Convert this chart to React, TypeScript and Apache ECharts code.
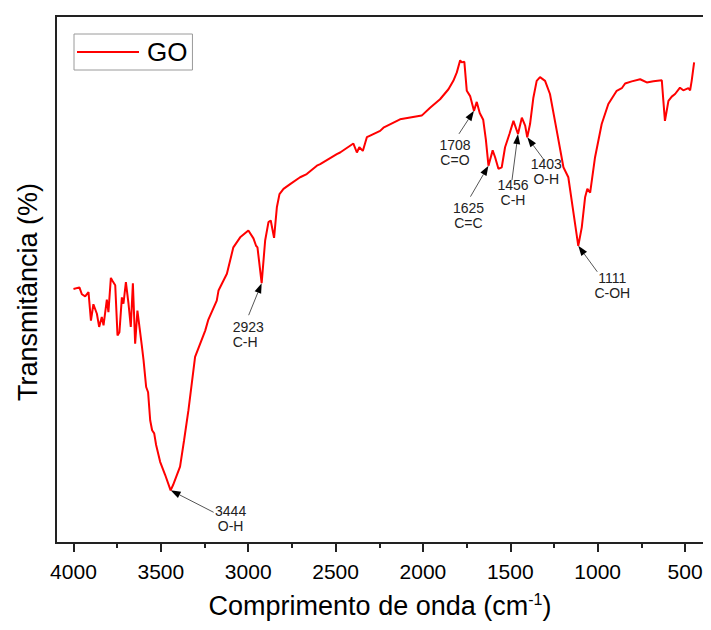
import { useEffect, useRef } from "react";
import * as echarts from "echarts";

// FTIR spectrum of graphene oxide (GO)
const wavenumber = [
  4000, 3966, 3952, 3933, 3914, 3900, 3886, 3866, 3853, 3838, 3828, 3809, 3800, 3786, 3778, 3761,
  3748, 3737, 3723, 3714, 3700, 3685, 3672, 3660, 3647, 3634, 3609, 3599, 3584, 3573, 3561, 3550,
  3538, 3527, 3504, 3475, 3444, 3430, 3390, 3367, 3342, 3304, 3246, 3228, 3180, 3170, 3122, 3085,
  3046, 2999, 2970, 2955, 2947, 2923, 2903, 2884, 2871, 2852, 2836, 2821, 2798, 2760, 2703, 2665,
  2607, 2588, 2493, 2474, 2398, 2378, 2364, 2344, 2321, 2302, 2245, 2226, 2131, 2007, 1959, 1902,
  1854, 1826, 1806, 1787, 1778, 1763, 1749, 1730, 1708, 1692, 1675, 1655, 1640, 1625, 1601, 1587,
  1568, 1549, 1530, 1505, 1482, 1456, 1434, 1415, 1403, 1387, 1368, 1349, 1330, 1301, 1273, 1234,
  1196, 1168, 1143, 1111, 1091, 1072, 1059, 1043, 1015, 977, 939, 891, 862, 843, 805, 757,
  719, 681, 633, 624, 615, 595, 576, 557, 529, 510, 481, 471, 462, 448,
];

const transmittance = [
  48.2, 48.5, 47.2, 46.8, 47.6, 42.2, 45.3, 43.5, 41.0, 42.9, 41.3, 46.2, 43.8, 50.3, 49.8, 48.9,
  39.4, 40.0, 46.6, 45.4, 49.5, 45.4, 41.0, 49.3, 37.8, 44.1, 37.5, 34.7, 29.6, 28.6, 23.3, 21.4,
  20.8, 18.6, 15.4, 12.9, 10.0, 11.0, 14.5, 19.5, 25.2, 35.3, 40.3, 42.4, 46.0, 47.9, 51.1, 56.1,
  58.0, 59.3, 57.8, 56.4, 56.1, 49.3, 57.4, 60.9, 61.2, 57.9, 63.7, 66.2, 67.2, 68.1, 69.4, 70.0,
  71.6, 71.9, 73.8, 74.1, 75.8, 74.1, 75.1, 74.4, 77.0, 77.3, 78.2, 78.8, 80.4, 81.1, 82.6, 84.2,
  86.1, 87.7, 89.3, 91.6, 91.2, 91.3, 85.8, 84.8, 82.0, 83.7, 81.6, 80.3, 76.6, 71.6, 74.5, 73.2,
  71.0, 71.3, 75.1, 77.6, 80.1, 77.6, 80.7, 79.2, 77.0, 79.5, 84.5, 87.7, 88.4, 87.7, 85.2, 78.2,
  71.3, 69.4, 63.7, 56.4, 59.9, 65.6, 67.2, 66.5, 73.2, 79.5, 83.3, 85.8, 86.3, 87.2, 87.6, 88.0,
  87.4, 87.6, 87.8, 83.9, 80.1, 83.9, 84.7, 85.2, 86.4, 85.9, 86.3, 85.9, 87.7, 91.2,
];

const majorTicks = [4000, 3500, 3000, 2500, 2000, 1500, 1000, 500];
const minorTicks = [3750, 3250, 2750, 2250, 1750, 1250, 750];

// Assigned absorption bands
const bandPositions = [3444, 2923, 1708, 1625, 1456, 1403, 1111];
const bandGroups = ["O-H", "C-H", "C=O", "C=C", "C-H", "O-H", "C-OH"];

// Placement of each band label relative to the band's point (pixels):
// [tailDx, tailDy, textDx, textDy, align]
const bandLabelLayout: [number, number, number, number, "center" | "left"][] = [
  [43, 22, 60, 21, "center"],
  [-13, 32, -29, 44, "left"],
  [-15, 23, -19, 34, "center"],
  [-18, 31, -20, 42, "center"],
  [-6, 46, -5, 51, "center"],
  [17, 23, 19, 27, "center"],
  [19, 26, 34, 32, "center"],
];

const FONT = "'Liberation Sans', Arial, Helvetica, sans-serif";
const X_MIN = 360;
const X_MAX = 4100;

export default function App() {
  const ref = useRef<HTMLDivElement>(null);

  useEffect(() => {
    if (!ref.current) return;
    const chart = echarts.init(ref.current, undefined, { renderer: "svg" });

    const points = wavenumber.map((w, i) => [w, transmittance[i]]);

    chart.setOption({
      animation: false,
      backgroundColor: "#ffffff",
      grid: {
        left: 56,
        top: 16,
        right: 1.5,
        bottom: 87,
        show: true,
        borderColor: "#222222",
        borderWidth: 2,
        backgroundColor: "transparent",
      },
      legend: {
        left: 74,
        top: 34,
        padding: [5, 5, 5, 3],
        borderColor: "#9a9a9a",
        borderWidth: 1,
        itemWidth: 62,
        itemHeight: 2,
        icon: "rect",
        selectedMode: false,
        textStyle: { fontFamily: FONT, fontSize: 26, color: "#000", padding: [0, 0, 0, 3] },
        data: ["GO"],
      },
      xAxis: [
        {
          type: "value",
          min: X_MIN,
          max: X_MAX,
          inverse: true,
          position: "bottom",
          axisLine: { show: true, lineStyle: { color: "#222222", width: 2 } },
          axisTick: {
            show: true,
            inside: false,
            length: 9,
            customValues: majorTicks,
            lineStyle: { color: "#222222", width: 2 },
          },
          axisLabel: {
            show: true,
            customValues: majorTicks,
            formatter: (v: number) => String(v),
            margin: 18,
            fontFamily: FONT,
            fontSize: 21,
            color: "#000",
          },
          splitLine: { show: false },
        },
        {
          type: "value",
          min: X_MIN,
          max: X_MAX,
          inverse: true,
          position: "bottom",
          axisLine: { show: false },
          axisTick: {
            show: true,
            inside: false,
            length: 5,
            customValues: minorTicks,
            lineStyle: { color: "#222222", width: 2 },
          },
          axisLabel: { show: false },
          splitLine: { show: false },
        },
      ],
      yAxis: {
        type: "value",
        min: 0,
        max: 100,
        axisLine: { show: true, lineStyle: { color: "#222222", width: 2 } },
        axisTick: { show: false },
        axisLabel: { show: false },
        splitLine: { show: false },
      },
      series: [
        {
          name: "GO",
          type: "line",
          xAxisIndex: 0,
          yAxisIndex: 0,
          data: points,
          symbol: "none",
          showSymbol: false,
          lineStyle: { color: "#ff0000", width: 2 },
          itemStyle: { color: "#ff0000" },
        },
      ],
    });

    // Band annotations: arrow from label to the band's point on the curve
    const graphics: any[] = [];
    bandPositions.forEach((w, i) => {
      const idx = wavenumber.indexOf(w);
      const t = transmittance[idx];
      const tip = chart.convertToPixel({ xAxisIndex: 0, yAxisIndex: 0 }, [w, t]) as number[];
      const [tdx, tdy, lx, ly, align] = bandLabelLayout[i];
      const tail = [tip[0] + tdx, tip[1] + tdy];
      const vx = tip[0] - tail[0];
      const vy = tip[1] - tail[1];
      const len = Math.hypot(vx, vy);
      const ux = vx / len;
      const uy = vy / len;
      const headLen = 10;
      const headHalf = 3.5;
      const base = [tip[0] - ux * headLen, tip[1] - uy * headLen];
      graphics.push({
        type: "line",
        silent: true,
        shape: { x1: tail[0], y1: tail[1], x2: base[0], y2: base[1] },
        style: { stroke: "#555555", lineWidth: 1 },
      });
      graphics.push({
        type: "polygon",
        silent: true,
        shape: {
          points: [
            [tip[0], tip[1]],
            [base[0] - uy * headHalf, base[1] + ux * headHalf],
            [base[0] + uy * headHalf, base[1] - ux * headHalf],
          ],
        },
        style: { fill: "#000000" },
      });
      // first text line is centred on the layout's y offset
      graphics.push({
        type: "text",
        silent: true,
        x: tip[0] + lx,
        y: tip[1] + ly - 7.5,
        style: {
          text: `${w}\n${bandGroups[i]}`,
          fontFamily: FONT,
          fontSize: 14,
          lineHeight: 15,
          fill: "#222222",
          align,
          verticalAlign: "top",
        },
      });
    });

    // Axis titles
    graphics.push({
      type: "text",
      silent: true,
      x: 28,
      y: 292,
      rotation: Math.PI / 2,
      style: {
        text: "Transmitância (%)",
        fontFamily: FONT,
        fontSize: 27,
        fill: "#000",
        align: "center",
        verticalAlign: "middle",
      },
    });
    graphics.push({
      type: "text",
      silent: true,
      x: 380,
      y: 606,
      style: {
        text: "{a|Comprimento de onda (cm}{s|-1}{a|)}",
        align: "center",
        verticalAlign: "middle",
        rich: {
          a: { fontFamily: FONT, fontSize: 27, fill: "#000", lineHeight: 30 },
          s: { fontFamily: FONT, fontSize: 16, fill: "#000", verticalAlign: "top", lineHeight: 30 },
        },
      },
    });

    chart.setOption({ graphic: graphics });

    return () => chart.dispose();
  }, []);

  return <div ref={ref} style={{ width: 711, height: 630, margin: -8 }} />;
}
